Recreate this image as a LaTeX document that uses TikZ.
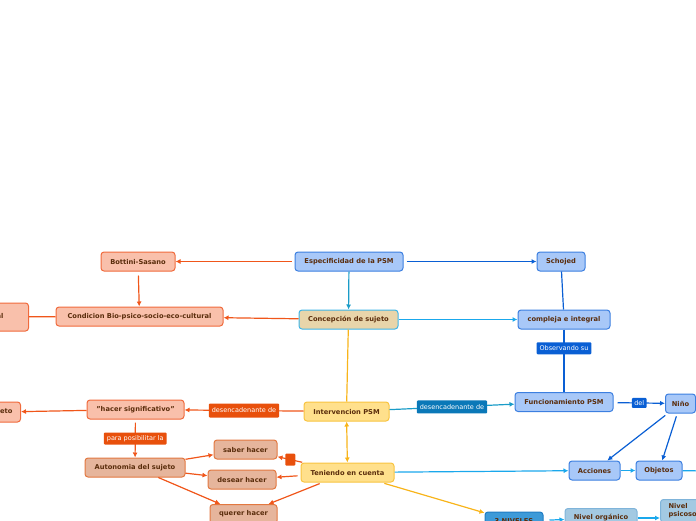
\documentclass[tikz,border=0pt]{standalone}
\usepackage{fontspec}
\setmainfont{DejaVu Sans}
\usetikzlibrary{arrows.meta, calc}
\definecolor{nodetext}{HTML}{5A2D0C}
\definecolor{bluefill}{HTML}{A8C8F8}
\definecolor{blueedge}{HTML}{3C7FE0}
\definecolor{salmonfill}{HTML}{F9C0AB}
\definecolor{salmonedge}{HTML}{F06A3C}
\definecolor{tanfill}{HTML}{E6B59C}
\definecolor{tanedge}{HTML}{E27840}
\definecolor{yellowfill}{HTML}{FFE08C}
\definecolor{yellowedge}{HTML}{F8C440}
\definecolor{sandfill}{HTML}{E8D5AA}
\definecolor{cyanedge}{HTML}{3DB5E8}
\definecolor{orangeline}{HTML}{F0561A}
\definecolor{orangetag}{HTML}{E8500C}
\definecolor{darkblue}{HTML}{0A5FD4}
\definecolor{tealtag}{HTML}{0A78B8}
\definecolor{cyanline}{HTML}{1AA8EC}
\definecolor{yellowline}{HTML}{F8B41A}
\definecolor{tealline}{HTML}{1A9CC8}
\definecolor{midblue}{HTML}{3D9AD8}
\definecolor{midblueedge}{HTML}{1F7CC4}
\definecolor{steelfill}{HTML}{A3C9E2}
\definecolor{steeledge}{HTML}{7FB4DA}
\tikzset{
    >={Latex[length=5pt, width=5pt]},
    topic/.style={draw, rounded corners=3pt, line width=1pt, text=nodetext,
        font=\bfseries\fontsize{6.7}{8}\selectfont, minimum height=19pt, inner xsep=2pt, inner ysep=1pt},
    bluetopic/.style={topic, fill=bluefill, draw=blueedge},
    salmontopic/.style={topic, fill=salmonfill, draw=salmonedge},
    tantopic/.style={topic, fill=tanfill, draw=tanedge},
    yellowtopic/.style={topic, fill=yellowfill, draw=yellowedge},
    sandtopic/.style={topic, fill=sandfill, draw=cyanedge},
    midtopic/.style={topic, fill=midblue, draw=midblueedge},
    steeltopic/.style={topic, fill=steelfill, draw=steeledge},
    tag/.style={fill=#1, text=white, rounded corners=1pt, inner xsep=3pt, inner ysep=0pt,
        minimum height=12pt, font=\fontsize{6.5}{7}\selectfont},
    conn/.style={draw=#1, line width=1.2pt},
}

\begin{document}
\begin{tikzpicture}[x=1pt, y=-1pt]
    \useasboundingbox (0,0) rectangle (696,520);
    \clip (0,0) rectangle (696,520);
    % topics
    \node[bluetopic, minimum width=108] (espec) at (349,261.5) {Especificidad de la PSM};
    \node[salmontopic, minimum width=74] (bottini) at (138,261.5) {Bottini-Sasano};
    \node[bluetopic, minimum width=48] (schojed) at (561,261.5) {Schojed};
    \node[salmontopic, minimum width=167] (condic) at (139.5,316.5) {Condicion Bio-psico-socio-eco-cultural};
    \node[salmontopic, anchor=east, minimum height=28, inner xsep=25pt] (integral) at (29,317) {Sujeto integral};
    \node[sandtopic, minimum width=99] (concep) at (348.5,319.5) {Concepción de sujeto};
    \node[bluetopic, minimum width=92] (compleja) at (564,319.5) {compleja e integral};
    \node[bluetopic, minimum width=98] (func) at (564,402) {Funcionamiento PSM};
    \node[bluetopic, minimum width=30] (nino) at (680.5,403.5) {Niño};
    \node[yellowtopic, minimum width=85] (interv) at (346.5,411.5) {Intervencion PSM};
    \node[salmontopic, minimum width=97] (hacer) at (135.5,409.5) {"hacer significativo"};
    \node[salmontopic, anchor=east, minimum height=20, inner xsep=8pt] (sujeto) at (21,412) {Sujeto};
    \node[tantopic, minimum width=100] (auto) at (135,467.5) {Autonomia del sujeto};
    \node[tantopic, minimum width=63] (saber) at (245.5,449.5) {saber hacer};
    \node[tantopic, minimum width=68] (desear) at (242,479.5) {desear hacer};
    \node[tantopic, minimum width=67] (querer) at (243.5,514) {querer hacer};
    \node[yellowtopic, minimum width=93] (teniendo) at (347.5,472.5) {Teniendo en cuenta};
    \node[bluetopic, minimum width=51] (acciones) at (594.5,470.5) {Acciones};
    \node[bluetopic, minimum width=46] (objetos) at (659,470.5) {Objetos};
    \node[midtopic, minimum width=58] (niveles) at (514,521.5) {3 NIVELES};
    \node[steeltopic, minimum width=72] (organico) at (601,518) {Nivel orgánico};
    \node[steeltopic, anchor=north west, align=left, inner xsep=8pt, inner ysep=4pt] (psico) at (660,499) {Nivel\\psicosocial};
    \coordinate (offobj) at (712,471);
    \coordinate (offnino) at (700,428);
    % upper links
    \draw[conn=orangeline, ->, shorten <=3pt] (espec) -- (bottini);
    \draw[conn=darkblue, ->, shorten <=3pt] (espec) -- (schojed);
    \draw[conn=tealline, ->] (espec) -- (concep);
    \draw[conn=orangeline, ->, shorten <=4pt] (bottini) -- (condic);
    \draw[conn=orangeline, ->] (concep) -- (condic);
    \draw[conn=orangeline] (condic) -- (integral);
    \draw[conn=cyanline, ->] (concep) -- (compleja);
    \draw[conn=darkblue] (schojed) -- (compleja);
    \draw[conn=darkblue] (compleja) -- node[tag=darkblue, pos=0.3] (observ) {Observando su} (func);
    \draw[conn=yellowline] (concep) -- (interv);
    % intervencion
    \draw[conn=orangeline, ->] (interv) -- node[tag=orangetag, minimum height=14pt] (desenc1) {desencadenante de} (hacer);
    \draw[conn=orangeline, ->] (hacer) -- (sujeto);
    \draw[conn=orangeline, ->, shorten <=3pt] (hacer) -- node[tag=orangetag] (posib) {para posibilitar la} (auto);
    \draw[conn=yellowline, <->] (interv) -- (teniendo);
    \draw[conn=tealline, ->] (interv) -- node[tag=tealtag, minimum height=13pt] (desenc2) {desencadenante de} (func);
    \draw[conn=darkblue, ->, shorten <=4pt] (func) -- node[tag=darkblue, minimum height=10pt, inner xsep=2.5pt] (del) {del} (nino);
    % autonomia
    \foreach \n in {saber, desear, querer}
        \draw[conn=orangeline, ->] (auto) -- (\n);
    \draw[conn=orangeline, ->, shorten <=1pt] (teniendo) -- node[tag=orangetag, minimum width=10pt, minimum height=12pt, inner sep=0pt] (marca) {} (saber);
    \foreach \n in {desear, querer}
        \draw[conn=orangeline, ->, shorten <=3pt] (teniendo) -- (\n);
    % nino
    \foreach \n in {acciones, objetos}
        \draw[conn=darkblue, ->, shorten <=3pt] (nino) -- (\n);
    \draw[conn=darkblue, shorten <=2pt] (nino.south east) -- (offnino);
    \draw[conn=cyanline, ->] (teniendo) -- (acciones);
    \draw[conn=cyanline, ->] (acciones) -- (objetos);
    \draw[conn=cyanline, ->] (objetos) -- (offobj);
    \draw[conn=yellowline, ->, shorten <=3pt] (teniendo) -- (niveles);
    \draw[conn=cyanline, ->, shorten <=6pt] (niveles) -- (organico);
    \draw[conn=cyanline, ->] (organico) -- (organico -| psico.west);
\end{tikzpicture}
\end{document}
